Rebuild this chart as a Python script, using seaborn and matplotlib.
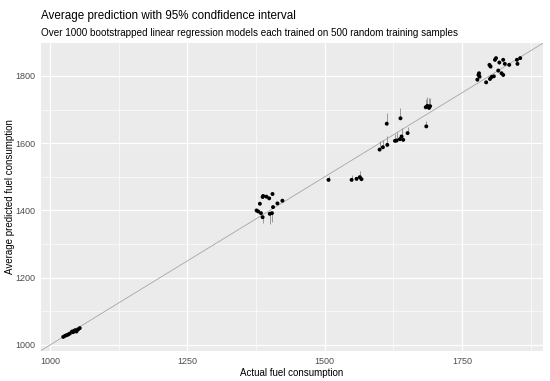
import numpy as np
import pandas as pd
import matplotlib
matplotlib.use("Agg")
import matplotlib.pyplot as plt
import seaborn as sns
from matplotlib.ticker import MultipleLocator

# ---- data ----
actual = [1024, 1027, 1030, 1033, 1036, 1040, 1042, 1044, 1046, 1048, 1051, 1054,
          1376, 1379, 1384, 1382, 1387, 1388, 1394, 1399, 1405, 1387, 1400, 1404, 1406, 1414, 1423,
          1507, 1549, 1558, 1564, 1567, 1600, 1606, 1614, 1613, 1628, 1631, 1637, 1640, 1643,
          1638, 1651, 1685, 1684, 1687, 1690, 1692,
          1781, 1780, 1782, 1778, 1794, 1801, 1804, 1808, 1816, 1822, 1825, 1800, 1802, 1812,
          1810, 1818, 1825, 1828, 1836, 1850, 1856, 1851]
predicted = [1024, 1027, 1029, 1031, 1034, 1040, 1038, 1042, 1044, 1040, 1046, 1050,
             1400, 1397, 1392, 1420, 1440, 1443, 1441, 1436, 1449, 1380, 1390, 1392, 1410, 1421, 1429,
             1491, 1491, 1494, 1499, 1493, 1581, 1588, 1595, 1658, 1607, 1608, 1612, 1620, 1610,
             1674, 1630, 1650, 1707, 1711, 1705, 1710,
             1808, 1803, 1798, 1789, 1781, 1791, 1797, 1799, 1816, 1808, 1803, 1833, 1828, 1853,
             1848, 1840, 1848, 1836, 1833, 1848, 1853, 1836]
ci_low = [1022, 1025, 1027, 1029, 1032, 1038, 1036, 1040, 1042, 1038, 1044, 1048,
          1397, 1395, 1389, 1417, 1437, 1440, 1438, 1433, 1446, 1363, 1360, 1365, 1407, 1418, 1426,
          1489, 1489, 1492, 1496, 1491, 1579, 1586, 1593, 1655, 1605, 1606, 1610, 1618, 1608,
          1671, 1628, 1648, 1704, 1708, 1702, 1707,
          1805, 1800, 1795, 1786, 1778, 1788, 1794, 1796, 1813, 1805, 1800, 1830, 1825, 1850,
          1845, 1837, 1845, 1833, 1830, 1845, 1850, 1833]
ci_high = [1027, 1030, 1032, 1034, 1037, 1043, 1041, 1045, 1047, 1052, 1050, 1056,
           1403, 1400, 1395, 1423, 1443, 1446, 1444, 1439, 1452, 1383, 1392, 1394, 1413, 1424, 1432,
           1501, 1506, 1500, 1516, 1498, 1607, 1610, 1620, 1690, 1628, 1632, 1625, 1645, 1614,
           1705, 1648, 1666, 1732, 1737, 1735, 1733,
           1811, 1806, 1801, 1792, 1784, 1794, 1800, 1802, 1819, 1811, 1806, 1836, 1831, 1856,
           1851, 1843, 1851, 1839, 1836, 1851, 1856, 1839]

title = "Average prediction with 95% condfidence interval"
subtitle = "Over 1000 bootstrapped linear regression models each trained on 500 random training samples"
x_label = "Actual fuel consumption"
y_label = "Average predicted fuel consumption"

df = pd.DataFrame({"actual": actual, "predicted": predicted,
                   "lo": ci_low, "hi": ci_high})

sns.set_theme(style="darkgrid")
plt.rcParams["font.family"] = ["Liberation Sans", "DejaVu Sans"]

fig = plt.figure(figsize=(5.5, 3.81), dpi=100)
ax = fig.add_axes([41 / 550, 1 - 351 / 381, (543 - 41) / 550, (351 - 43) / 381])
ax.set_facecolor("#EBEBEB")

ax.axline((1000, 1000), slope=1, color="#A6A6A6", lw=0.6, zorder=1)
ax.vlines(df["actual"], df["lo"], df["hi"], color="#8C8C8C", lw=0.6, zorder=2)
sns.scatterplot(data=df, x="actual", y="predicted", ax=ax, color="black",
                s=8, edgecolor="none", zorder=3)

ax.set_xlim(983.5, 1897.5)
ax.set_ylim(982, 1898)
ax.xaxis.set_major_locator(MultipleLocator(250))
ax.xaxis.set_minor_locator(MultipleLocator(125))
ax.yaxis.set_major_locator(MultipleLocator(200))
ax.yaxis.set_minor_locator(MultipleLocator(100))
ax.grid(which="major", color="white", lw=0.9)
ax.grid(which="minor", color="white", lw=0.45)
for s in ax.spines.values():
    s.set_visible(False)

ax.tick_params(axis="both", which="major", length=2.5, width=0.6, color="#333333",
               labelsize=6.5, labelcolor="#4D4D4D", pad=1.5)
ax.tick_params(axis="both", which="minor", length=0)
ax.set_xlabel(x_label, fontsize=7, color="black", labelpad=2)
ax.set_ylabel(y_label, fontsize=7, color="black", labelpad=0.5)

fig.text(41 / 550, 1 - 16 / 381, title, fontsize=8.35, color="black", va="center", ha="left")
fig.text(41 / 550, 1 - 33 / 381, subtitle, fontsize=7.1, color="black", va="center", ha="left")

fig.savefig("out.png", dpi=100)
